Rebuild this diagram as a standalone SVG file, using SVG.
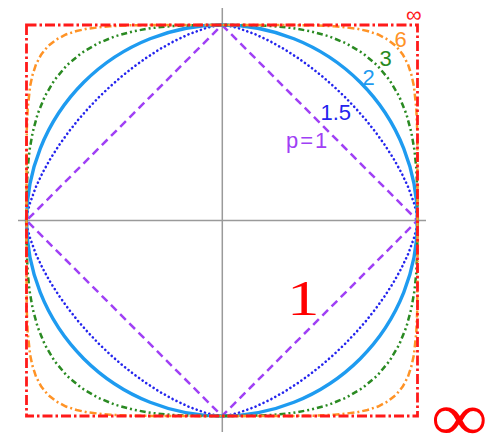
<svg xmlns="http://www.w3.org/2000/svg" xmlns:xlink="http://www.w3.org/1999/xlink" width="495" height="436" viewBox="0 0 495 436">
<style>
.axis{stroke:#9a9a9a;stroke-width:1.5;fill:none}
.c{fill:none}
.p1{stroke:#a040f5;stroke-width:2.5;stroke-dasharray:8,5}
.p15{stroke:#2424ee;stroke-width:2.6;stroke-dasharray:0.1,4.3;stroke-linecap:round}
.p2{stroke:#1e9bf0;stroke-width:3.4}
.p3{stroke:#2a8a22;stroke-width:2.5;stroke-dasharray:6,3,2,3,2,3}
.p6{stroke:#ff9326;stroke-width:2.5;stroke-dasharray:7,3,2,3}
.pinf{stroke:#ff1a1a;stroke-width:2.8;stroke-dasharray:10,3,2.5,3}
.lbl{font-family:"Liberation Sans",Arial,sans-serif;font-size:22px}
.big{font-family:"Liberation Serif","Times New Roman",serif;fill:#ff0000}
</style>
<defs>
<path id="q6" d="M195.5,0 L195.5,-17.1 L195.5,-34.5 L195.5,-52.4 L195.4,-71.1 L195.2,-91.0 L194.3,-112.2 L191.9,-134.4 L189.5,-145.4 L186.0,-156.1 L180.9,-165.8 L174.2,-174.2 L165.8,-180.9 L156.1,-186.0 L145.4,-189.5 L134.4,-191.9 L112.2,-194.3 L91.0,-195.2 L71.1,-195.4 L52.4,-195.5 L34.5,-195.5 L17.1,-195.5 L0,-195.5"/>
<path id="q3" d="M195.5,0 L195.5,-17.1 L195.1,-34.4 L194.3,-52.1 L192.5,-70.1 L189.3,-88.3 L184.4,-106.4 L177.2,-124.1 L167.5,-140.5 L155.2,-155.2 L140.5,-167.5 L124.1,-177.2 L106.4,-184.4 L88.3,-189.3 L70.1,-192.5 L52.1,-194.3 L34.4,-195.1 L17.1,-195.5 L0,-195.5"/>
<path id="q15" d="M195.5,0 L194.3,-8.5 L192.2,-16.8 L186.4,-32.9 L179.3,-48.0 L171.3,-62.3 L162.6,-75.8 L153.4,-88.6 L143.8,-100.7 L133.7,-112.2 L123.2,-123.2 L112.2,-133.7 L100.7,-143.8 L88.6,-153.4 L75.8,-162.6 L62.3,-171.3 L48.0,-179.3 L32.9,-186.4 L16.8,-192.2 L8.5,-194.3 L0,-195.5"/>
</defs>
<g id="axes">
<line class="axis" x1="18" y1="220.5" x2="426" y2="220.5"/>
<line class="axis" x1="222.3" y1="8" x2="222.3" y2="432"/>
</g>
<g id="curves" transform="translate(222,220.5)">
<polygon id="ball-p1" class="c p1" points="0,-195.5 195.5,0 0,195.5 -195.5,0"/>
<g id="ball-p1_5" class="c p15">
<use xlink:href="#q15"/><use xlink:href="#q15" transform="scale(-1,1)"/><use xlink:href="#q15" transform="scale(1,-1)"/><use xlink:href="#q15" transform="scale(-1,-1)"/>
</g>
<circle id="ball-p2" class="c p2" cx="0" cy="0" r="195.5"/>
<g id="ball-p3" class="c p3">
<use xlink:href="#q3"/><use xlink:href="#q3" transform="scale(-1,1)"/><use xlink:href="#q3" transform="scale(1,-1)"/><use xlink:href="#q3" transform="scale(-1,-1)"/>
</g>
<g id="ball-p6" class="c p6">
<use xlink:href="#q6"/><use xlink:href="#q6" transform="scale(-1,1)"/><use xlink:href="#q6" transform="scale(1,-1)"/><use xlink:href="#q6" transform="scale(-1,-1)"/>
</g>
<rect id="ball-pinf" class="c pinf" x="-195.5" y="-195.5" width="391" height="391"/>
</g>
<g id="labels">
<text class="lbl" x="394.5" y="47" fill="#ff9326">6</text>
<text class="lbl" x="379.5" y="66" fill="#2a8a22">3</text>
<text class="lbl" x="362.5" y="85" fill="#1e9bf0">2</text>
<text class="lbl" x="320.5" y="120" fill="#2424ee">1.5</text>
<text class="lbl" x="286" y="148" fill="#a040f5" letter-spacing="2">p=1</text>
<text x="406" y="22" font-family="Liberation Sans,Arial,sans-serif" font-size="22" fill="#ff1a1a">∞</text>
<text class="big" font-size="68" transform="translate(431,440) scale(1.17,1)">∞</text>
<text class="big" font-size="50" transform="translate(287,315) scale(1.3,1)">1</text>
</g>
</svg>
